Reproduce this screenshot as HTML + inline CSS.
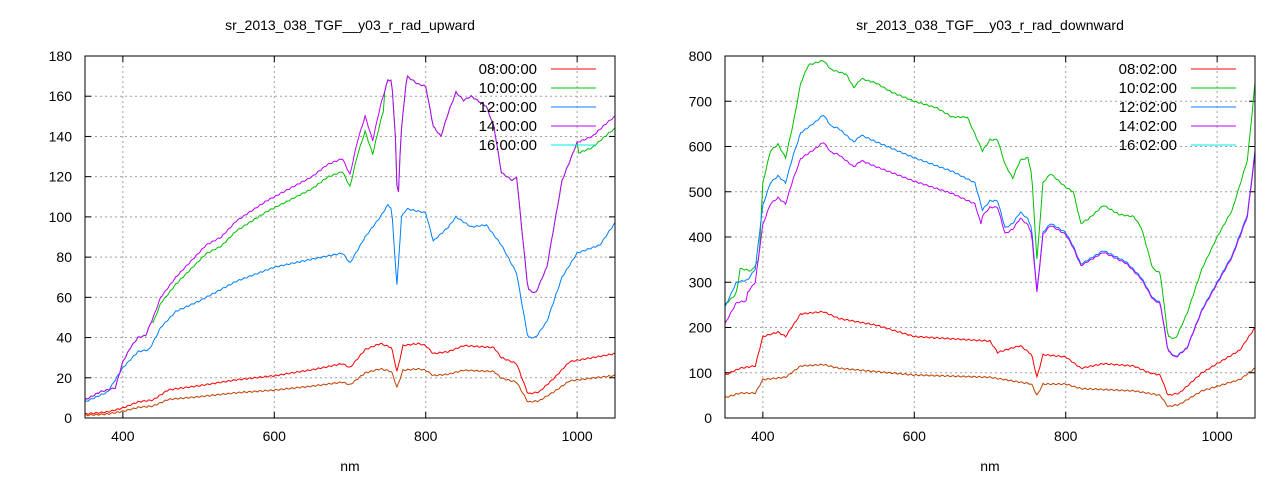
<!DOCTYPE html>
<html><head><meta charset="utf-8"><style>
body{margin:0;background:#fff;}
svg{display:block;font-family:"Liberation Sans","DejaVu Sans",sans-serif;}
</style></head><body>
<svg id="s" width="1280" height="480" xmlns="http://www.w3.org/2000/svg"></svg>
<script>
const S=document.getElementById('s');
let h='';
function plot(x0,x1,y0,y1,ymax,ystep,title,series,labels){
  const X=n=>x0+(n-350)*(x1-x0)/700, Y=v=>y1-v*(y1-y0)/ymax;
  h+=`<text x="${(x0+x1)/2}" y="30" font-size="14" text-anchor="middle">${title}</text>`;
  for(let n=400;n<=1000;n+=200){h+=`<line x1="${X(n)}" y1="${y0}" x2="${X(n)}" y2="${y1}" stroke="#a0a0a0" stroke-dasharray="2,3"/>`;
    h+=`<text x="${X(n)}" y="${y1+23}" font-size="14" text-anchor="middle">${n}</text>`;
    h+=`<line x1="${X(n)}" y1="${y1}" x2="${X(n)}" y2="${y1-6}" stroke="#000"/><line x1="${X(n)}" y1="${y0}" x2="${X(n)}" y2="${y0+6}" stroke="#000"/>`;}
  for(let v=0;v<=ymax;v+=ystep){const y=Y(v);
    if(v>0&&v<ymax)h+=`<line x1="${x0}" y1="${y}" x2="${x1}" y2="${y}" stroke="#a0a0a0" stroke-dasharray="2,3"/>`;
    h+=`<text x="${x0-13}" y="${y+5}" font-size="14" text-anchor="end">${v}</text>`;
    h+=`<line x1="${x0}" y1="${y}" x2="${x0+6}" y2="${y}" stroke="#000"/><line x1="${x1}" y1="${y}" x2="${x1-6}" y2="${y}" stroke="#000"/>`;}
  h+=`<text x="${(x0+x1)/2}" y="471" font-size="14" text-anchor="middle">nm</text>`;
  for(const [col,pts,sc] of series){
    let d='';let k=0;
    for(let n=350;n<=1050;n+=2){
      let i=0;while(i<pts.length-2&&pts[i+1][0]<n)i++;
      const [a,va]=pts[i],[b,vb]=pts[i+1];let t=(n-a)/(b-a);t=Math.max(0,Math.min(1,t));
      let v=(va+(vb-va)*t)*(sc?sc(n):1);
      v+=Math.sin(n*0.9)*ymax*0.002;
      d+=(k++?'L':'M')+X(n).toFixed(1)+','+Y(Math.max(0,v)).toFixed(1);
    }
    h+=`<path d="${d}" fill="none" stroke="${col}" stroke-width="1"/>`;
  }
  const cols=['#ff0000','#00c000','#0080ff','#c000ff','#00eeee'];
  labels.forEach((l,i)=>{const y=y0+13+i*19;
    h+=`<text x="${x1-78}" y="${y+5}" font-size="15" text-anchor="end">${l}</text>`;
    h+=`<line x1="${x1-64}" y1="${y}" x2="${x1-19}" y2="${y}" stroke="${cols[i]}"/>`;});
  h+=`<rect x="${x0}" y="${y0}" width="${x1-x0}" height="${y1-y0}" fill="none" stroke="#000"/>`;
}
const mU=[[350,9],[370,13],[390,15],[400,28],[410,35],[420,40],[430,41],[440,50],[450,60],[470,70],[490,78],[510,86],[530,90],[550,98],[570,103],[590,108],[610,112],[630,116],[650,120],[670,126],[690,129],[700,121],[710,138],[720,150],[730,138],[740,155],[750,168],[755,168],[760,140],[763,103],[767,140],[775,170],[790,166],[800,165],[810,145],[820,140],[830,152],[840,162],[850,158],[860,160],[880,155],[890,145],[900,122],[915,118],[920,120],[935,64],[945,62],[960,75],[980,118],[1000,137],[1020,140],[1040,147],[1050,150]];
const bU=[[350,8],[380,13],[400,25],[420,33],[435,34],[450,45],[470,53],[500,58],[520,62],[550,68],[600,75],[650,79],[690,82],[700,77],[720,90],[740,100],[750,106],[755,104],[762,66],[768,100],[775,104],[800,102],[810,88],[830,95],[840,100],[860,95],[880,96],[900,86],[920,72],[935,40],[945,40],[960,48],[980,70],[1000,82],[1030,86],[1050,97]];
const rU=[[350,2],[380,3],[400,5],[420,8],[440,9],[460,14],[500,16],[550,19],[600,21],[650,24],[690,27],[700,25],[720,34],[740,37],[755,35],[762,23],[770,36],[790,37],[800,36],[810,32],[830,33],[850,36],[890,35],[900,30],[920,27],[935,12],[950,13],[970,20],[990,28],[1050,32]];
const gs=n=>n<440||n>745?(n>1000?0.96:1):0.95;
plot(85,615,56,418,180,20,'sr_2013_038_TGF__y03_r_rad_upward',[
 ['#c04000',rU,n=>0.66],['#ff0000',rU],['#0080ff',bU],['#00c000',mU,gs],['#c000ff',mU]],
 ['08:00:00','10:00:00','12:00:00','14:00:00','16:00:00']);
const gD=[[350,250],[365,275],[370,330],[385,325],[395,350],[400,520],[410,590],[420,605],[430,575],[440,650],[450,740],[460,780],[480,790],[490,770],[500,765],[510,760],[520,730],[530,750],[550,740],[570,720],[600,700],[630,685],[650,665],[670,665],[690,590],[700,615],[710,615],[720,560],[730,530],[740,570],[750,575],[755,540],[762,350],[770,520],[780,540],[800,510],[810,500],[820,430],[830,440],[850,470],[870,450],[890,445],[900,420],[915,330],[925,320],[935,180],[945,175],[960,230],[980,330],[1000,400],[1020,460],[1040,570],[1050,740]];
const bD=[[350,245],[365,300],[380,305],[390,330],[400,470],[410,520],[420,535],[430,520],[440,580],[450,630],[470,655],[480,670],[490,645],[500,640],[520,610],[530,625],[550,610],[600,575],[650,545],[680,520],[690,460],[700,480],[710,480],[720,420],[730,430],[740,455],[750,440],[755,420],[762,280],[770,410],[780,430],[800,410],[810,380],[820,340],[840,360],[850,370],[880,345],[900,310],[915,265],[925,255],[935,150],[945,135],[960,155],[980,240],[1000,300],[1020,360],[1040,450],[1050,590]];
const rD=[[350,95],[370,110],[390,115],[400,180],[420,190],[430,180],[450,230],[480,235],[500,220],[550,205],[600,180],[650,175],[700,170],[710,145],[720,150],[740,160],[755,140],[762,90],[770,140],[800,135],[820,110],[850,120],[890,115],[910,100],[925,95],[935,50],[950,55],[980,100],[1000,120],[1030,150],[1050,200]];
const oD=[[350,45],[370,55],[390,55],[400,85],[430,90],[450,115],[480,118],[500,110],[600,95],[700,90],[755,75],[762,50],[770,75],[800,75],[820,65],[890,60],[925,50],[935,25],[950,30],[980,60],[1030,85],[1050,110]];
const ms=n=>n<380?0.85:(n<690?0.91:(n<760?0.97:0.99));
plot(725,1255,56,418,800,100,'sr_2013_038_TGF__y03_r_rad_downward',[
 ['#c04000',oD],['#ff0000',rD],['#00c000',gD],['#0080ff',bD],['#c000ff',bD,ms]],
 ['08:02:00','10:02:00','12:02:00','14:02:00','16:02:00']);
S.innerHTML=h;
</script>
</body></html>
